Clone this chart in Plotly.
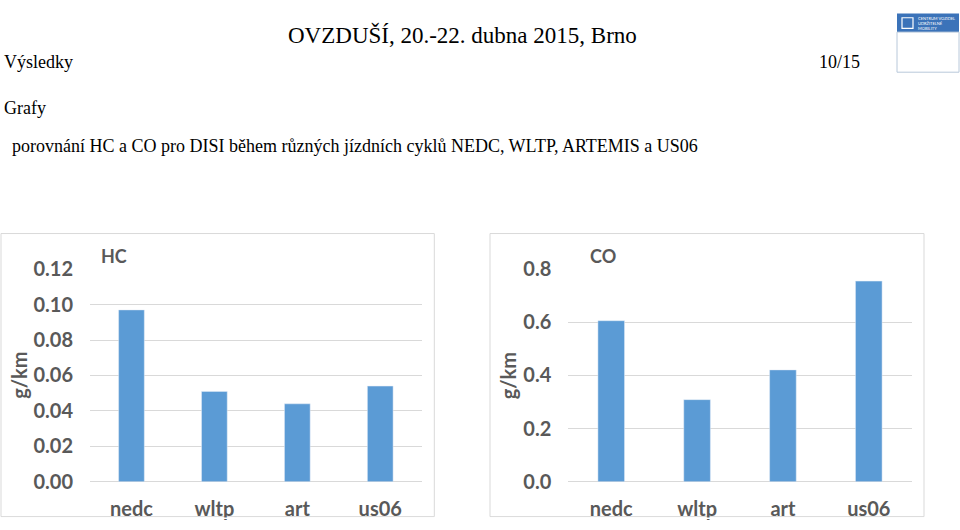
import plotly.graph_objects as go

categories = ["nedc", "wltp", "art", "us06"]
hc_values = [0.097, 0.051, 0.044, 0.054]
co_values = [0.606, 0.309, 0.421, 0.755]
hc_ticks = [0.00, 0.02, 0.04, 0.06, 0.08, 0.10, 0.12]
co_ticks = [0.0, 0.2, 0.4, 0.6, 0.8]

W, H = 960, 530
BAR = "#5B9BD5"
GRID = "#D9D9D9"
TXT = "#595959"
SANS = "Lato"
SERIF = "Liberation Serif"


def px(x):
    return x / W


def py(y):
    return 1 - y / H


fig = go.Figure()
fig.add_trace(go.Bar(x=categories, y=hc_values, marker_color=BAR, xaxis="x", yaxis="y",
                     showlegend=False, hoverinfo="skip"))
fig.add_trace(go.Bar(x=categories, y=co_values, marker_color=BAR, xaxis="x2", yaxis="y2",
                     showlegend=False, hoverinfo="skip"))

ydom = [py(491), py(268.3)]
tickfont = dict(family=SANS, size=20, color=TXT, weight="bold")

common_x = dict(showgrid=False, showline=False, zeroline=False, ticks="",
                tickfont=tickfont, ticklabelstandoff=13, fixedrange=True)
common_y = dict(showgrid=True, gridcolor=GRID, gridwidth=1, zeroline=True,
                zerolinecolor=GRID, zerolinewidth=1, showline=False, ticks="",
                tickfont=tickfont, ticklabelstandoff=16, fixedrange=True)

fig.update_layout(
    width=W, height=H,
    margin=dict(l=0, r=0, t=0, b=0),
    paper_bgcolor="white", plot_bgcolor="white",
    bargap=0.69,
    xaxis=dict(domain=[px(90), px(421.7)], anchor="y", **common_x),
    yaxis=dict(domain=ydom, anchor="x", range=[0, 0.12], tickvals=hc_ticks,
               ticktext=[f"{v:.2f}" for v in hc_ticks], **common_y),
    xaxis2=dict(domain=[px(568.3), px(911.7)], anchor="y2", **common_x),
    yaxis2=dict(domain=ydom, anchor="x2", range=[0, 0.8], tickvals=co_ticks,
                ticktext=[f"{v:.1f}" for v in co_ticks], **common_y),
)

shapes = [
    # chart boxes
    dict(type="rect", xref="paper", yref="paper", x0=px(1), x1=px(434.3), y0=py(527.5), y1=py(231),
         line=dict(color=GRID, width=1), fillcolor="rgba(0,0,0,0)", layer="below"),
    dict(type="rect", xref="paper", yref="paper", x0=px(490), x1=px(924), y0=py(527.5), y1=py(231),
         line=dict(color=GRID, width=1), fillcolor="rgba(0,0,0,0)", layer="below"),
    # the slide crop cuts descenders of the category labels at the chart boxes' bottom edge
    dict(type="rect", xref="paper", yref="paper", x0=0, x1=1, y0=0, y1=py(528.5),
         line=dict(width=0), fillcolor="white", layer="above"),
    # logo
    dict(type="rect", xref="paper", yref="paper", x0=px(897), x1=px(959), y0=py(20), y1=py(0.5),
         line=dict(width=0), fillcolor="#3B73B9"),
    dict(type="rect", xref="paper", yref="paper", x0=px(897), x1=px(959), y0=py(62), y1=py(20),
         line=dict(color="#B8C8DA", width=1), fillcolor="white"),
    dict(type="rect", xref="paper", yref="paper", x0=px(902), x1=px(913), y0=py(16), y1=py(5),
         line=dict(color="white", width=1.2), fillcolor="rgba(0,0,0,0)"),
]
fig.update_layout(shapes=shapes)

annotations = [
    dict(text="OVZDUŠÍ, 20.-22. dubna 2015, Brno", x=px(462), y=py(23),
         font=dict(family=SERIF, size=23, color="black")),
    dict(text="Výsledky", x=px(2), y=py(51), xanchor="left",
         font=dict(family=SERIF, size=18, color="black")),
    dict(text="10/15", x=px(862), y=py(51), xanchor="right",
         font=dict(family=SERIF, size=18, color="black")),
    dict(text="Grafy", x=px(2), y=py(99), xanchor="left",
         font=dict(family=SERIF, size=18, color="black")),
    dict(text="porovnání HC a CO pro DISI během různých jízdních cyklů NEDC, WLTP, ARTEMIS a US06",
         x=px(10), y=py(139), xanchor="left",
         font=dict(family=SERIF, size=18, color="black")),
    dict(text="HC", x=px(114), y=py(255), font=dict(family=SANS, size=18, color=TXT, weight="bold")),
    dict(text="CO", x=px(603), y=py(255), font=dict(family=SANS, size=18, color=TXT, weight="bold")),
    dict(text="g/km", x=px(19), y=py(380), textangle=-90,
         font=dict(family=SANS, size=20, color=TXT, weight="bold")),
    dict(text="g/km", x=px(507.5), y=py(380), textangle=-90,
         font=dict(family=SANS, size=20, color=TXT, weight="bold")),
    dict(text="CENTRUM VOZIDEL<br>UDRŽITELNÉ<br>MOBILITY", x=px(916), y=py(10.5), xanchor="left",
         align="left", font=dict(family=SANS, size=4, color="white")),
]
for a in annotations:
    a.setdefault("xref", "paper")
    a.setdefault("yref", "paper")
    a.setdefault("showarrow", False)
    a.setdefault("xanchor", "center")
    a.setdefault("yanchor", "middle")
fig.update_layout(annotations=annotations)

# remove the browser's default 8px body margin so the 960x530 figure fills the window exactly
page_css = """
document.body.style.margin='0';
document.body.style.padding='0';
document.documentElement.style.overflow='hidden';
"""
fig.write_html("out.html", post_script=page_css)
